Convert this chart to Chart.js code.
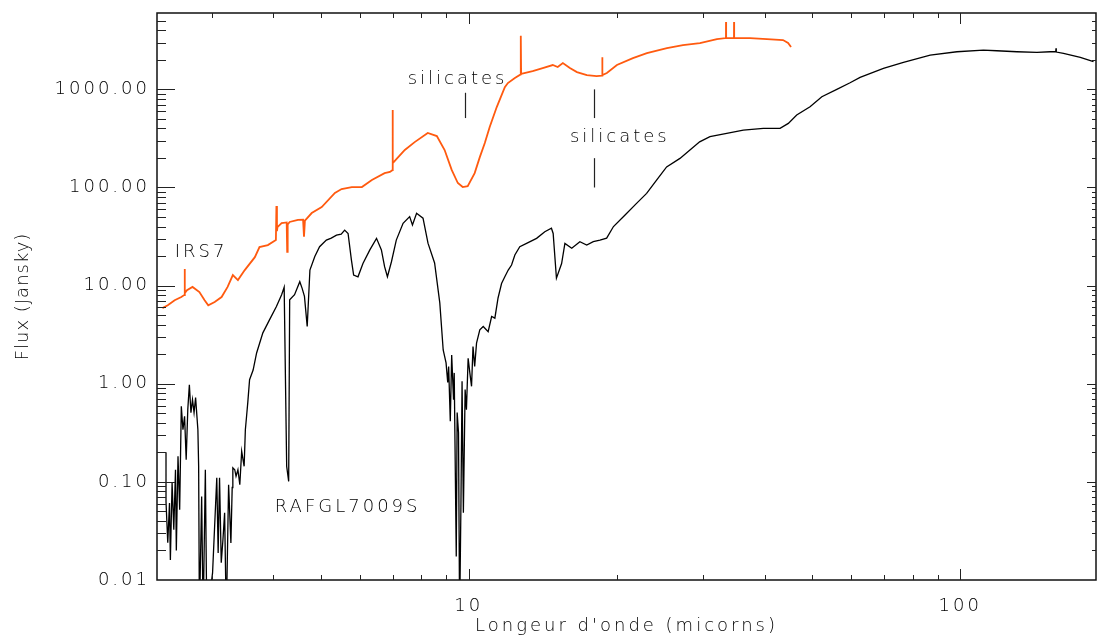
<!DOCTYPE html>
<html><head><meta charset="utf-8">
<script src="https://cdn.jsdelivr.net/npm/chart.js@4/dist/chart.umd.min.js"></script>
<style>html,body{margin:0;padding:0;background:#fff;overflow:hidden}canvas{display:block}</style>
</head><body>
<canvas id="c" width="1099" height="637"></canvas>
<script>
// ---- data (wavelength in microns, flux in Jansky) ----
const irs7Wave = [2.38,2.44,2.52,2.60,2.635,2.64,2.645,2.67,2.74,2.83,2.90,2.95,3.04,3.14,3.23,3.31,3.39,3.50,3.67,3.75,3.90,4.05,4.06,4.07,4.08,4.16,4.26,4.27,4.28,4.32,4.49,4.60,4.62,4.64,4.79,5.02,5.34,5.51,5.78,6.06,6.35,6.74,6.91,6.99,6.995,7.00,7.01,7.41,7.76,8.25,8.61,8.93,9.23,9.50,9.72,9.95,10.28,10.53,10.78,11.03,11.40,11.84,12.01,12.41,12.75,12.76,12.78,13.49,14.14,14.82,15.17,15.54,16.06,16.60,17.39,18.20,18.68,18.69,18.71,19.10,20.02,21.58,23.04,25.31,27.28,29.54,31.99,33.37,33.38,33.40,34.65,34.66,34.68,37.36,40.45,43.6,44.65,45.27];
const irs7Flux = [5.9,6.3,7.1,7.65,8.0,14.8,8.4,9.0,9.7,8.6,7.1,6.3,6.8,7.65,9.7,12.8,11.4,14.4,19.5,24.7,25.9,29.1,64.7,36,39.5,43.4,44,22.1,42,44.5,46.7,47,31.5,46,54.9,63.2,87.9,96.4,101,101,119,140,144,150,615,165,177,241,290,359,334,241,151,111,101,103,140,204,284,413,660,1054,1159,1304,1420,3516,1440,1535,1648,1770,1688,1854,1648,1500,1399,1366,1380,2120,1400,1466,1770,2084,2344,2636,2826,2964,3258,3334,4853,3334,3334,4853,3334,3334,3258,3177,2964,2698];

const rafWave = [2.42,2.42,2.44,2.46,2.47,2.49,2.51,2.53,2.54,2.56,2.58,2.60,2.62,2.64,2.66,2.68,2.70,2.72,2.74,2.76,2.78,2.81,2.82,2.83,2.86,2.88,2.91,2.93,3.01,3.07,3.09,3.11,3.135,3.16,3.185,3.21,3.245,3.28,3.30,3.31,3.34,3.36,3.39,3.42,3.45,3.49,3.51,3.53,3.55,3.58,3.64,3.70,3.81,3.93,4.06,4.16,4.21,4.26,4.30,4.32,4.42,4.53,4.58,4.63,4.69,4.75,4.86,4.97,5.13,5.25,5.38,5.50,5.59,5.68,5.77,5.83,5.95,6.09,6.29,6.49,6.64,6.74,6.83,6.96,7.12,7.35,7.58,7.68,7.83,8.07,8.26,8.52,8.73,8.87,8.99,9.06,9.10,9.17,9.23,9.31,9.34,9.43,9.47,9.53,9.58,9.64,9.69,9.75,9.83,9.89,9.97,10.05,10.13,10.20,10.28,10.37,10.53,10.70,10.95,11.13,11.30,11.47,11.66,11.84,12.03,12.22,12.41,12.70,13.11,13.74,14.28,14.73,14.85,15.08,15.45,15.69,16.2,16.83,17.38,17.92,18.49,19.08,19.7,20.8,21.95,23.01,24.11,25.27,26.90,28.19,29.5,30.96,33.49,36.2,39.76,43.0,44.7,46.49,49.49,52.3,56.1,59.7,62.57,69.8,76.66,86.9,98.5,111.5,118.7,130.5,143.3,152.5,156.5,156.7,156.9,162.3,175.6,186.8];
const rafFlux = [0.20,0.063,0.024,0.061,0.016,0.098,0.0325,0.133,0.020,0.182,0.052,0.589,0.340,0.466,0.168,0.545,0.978,0.508,0.689,0.508,0.722,0.340,0.144,0.004,0.071,0.004,0.133,0.004,0.0118,0.110,0.0189,0.110,0.015,0.0257,0.0485,0.004,0.0934,0.0238,0.0876,0.139,0.133,0.114,0.133,0.0934,0.205,0.144,0.340,0.466,0.642,1.10,1.38,2.06,3.30,4.48,6.12,8.08,9.61,0.144,0.101,7.16,8.08,10.96,9.38,7.77,3.83,14.4,19.8,24.9,29.1,30.5,32.7,33.5,36.8,34.0,18.2,12.8,12.3,16.8,23.1,30.3,23.1,15.6,12.3,17.5,29.1,43.2,50.5,41.5,54.7,48.6,27.1,17.0,6.67,2.21,1.63,1.03,1.50,0.414,1.96,0.689,1.29,0.0174,0.508,0.317,0.004,0.0613,1.06,0.0485,0.871,0.545,1.82,1.29,0.941,2.39,1.50,2.59,3.54,3.83,3.40,4.84,4.66,7.48,10.5,12.3,14.4,16.2,20.5,24.9,26.9,30.3,35.4,38.4,34.0,11.9,16.8,26.9,24.0,28.0,25.9,28.0,29.1,30.5,40,52.5,68.9,87.1,119,162,198,241,292,329,356,385,401,401,450,547,665,841,1000,1167,1325,1635,1884,2236,2416,2514,2475,2416,2381,2416,2416,2618,2400,2325,2118,1912];

const seriesNames = ['IRS7', 'RAFGL7009S'];
const xTickValues = [10, 100];
const xTickLabels = ['10', '100'];
const yTickValues = [0.01, 0.1, 1, 10, 100, 1000];
const yTickLabels = ['0.01', '0.10', '1.00', '10.00', '100.00', '1000.00'];
const xTitle = "Longeur d'onde (micorns)";
const yTitle = 'Flux (Jansky)';

// annotation texts & marker lines (data coordinates)
const noteTexts = ['IRS7', 'RAFGL7009S', 'silicates', 'silicates'];
const noteX = [2.52, 4.03, 7.51, 16.06];
const noteY = [19.5, 0.049, 1133, 290];
const markerX = [9.81, 18.0, 18.0];
const markerYFrom = [923, 1000, 199];
const markerYTo = [510, 510, 100];

// ---- styles ----
const FONT_FAMILY = '"DejaVu Sans", "Liberation Sans", sans-serif';
const TEXT_COLOR = '#000';
const spacing = { x: { ticks: '3px', title: '3px' }, y: { ticks: '3px', title: '1px' } };

const toPts = (xs, ys) => xs.map((x, i) => ({ x, y: ys[i] }));

const spacingPlugin = {
  id: 'spacing',
  afterUpdate(chart) {
    for (const s of Object.values(chart.scales)) {
      if (s._wrappedSpacing) continue;
      s._wrappedSpacing = true;
      const sp = spacing[s.id] || { ticks: '0px', title: '0px' };
      const dl = s.drawLabels, dt = s.drawTitle;
      s.drawLabels = function (a) { const c = this.ctx; c.save(); c.letterSpacing = sp.ticks; dl.call(this, a); c.restore(); };
      s.drawTitle = function () { const c = this.ctx; c.save(); c.letterSpacing = sp.title; dt.call(this); c.restore(); };
    }
  }
};

const framePlugin = {
  id: 'frame',
  afterDatasetsDraw(chart) {
    const { ctx, chartArea: a, scales: { x, y } } = chart;
    ctx.save();
    // annotations
    ctx.fillStyle = TEXT_COLOR;
    ctx.font = '200 18px ' + FONT_FAMILY;
    ctx.letterSpacing = '3px';
    ctx.textAlign = 'left';
    ctx.textBaseline = 'alphabetic';
    noteTexts.forEach((t, i) => ctx.fillText(t, x.getPixelForValue(noteX[i]), y.getPixelForValue(noteY[i])));
    ctx.strokeStyle = '#222';
    ctx.lineWidth = 1.2;
    markerX.forEach((mx, i) => {
      const px = Math.round(x.getPixelForValue(mx)) + 0.5;
      ctx.beginPath();
      ctx.moveTo(px, y.getPixelForValue(markerYFrom[i]));
      ctx.lineTo(px, y.getPixelForValue(markerYTo[i]));
      ctx.stroke();
    });
    // frame
    ctx.strokeStyle = '#111';
    ctx.lineWidth = 1.5;
    ctx.strokeRect(a.left, a.top, a.right - a.left, a.bottom - a.top);
    // ticks
    ctx.lineWidth = 1;
    ctx.strokeStyle = '#222';
    const line = (x1, y1, x2, y2) => { ctx.beginPath(); ctx.moveTo(x1, y1); ctx.lineTo(x2, y2); ctx.stroke(); };
    for (let d = -3; d <= 4; d++) {
      for (let m = 1; m <= 9; m++) {
        const v = m * Math.pow(10, d);
        const major = m === 1;
        if (v > x.min && v < x.max) {
          const px = Math.round(x.getPixelForValue(v)) + 0.5;
          const L = major ? 11 : 5;
          line(px, a.bottom, px, a.bottom - L);
          line(px, a.top, px, a.top + L);
        }
        if (v > y.min && v < y.max) {
          const py = Math.round(y.getPixelForValue(v)) + 0.5;
          line(a.left, py, a.left + (major ? 18 : 9), py);
          line(a.right, py, a.right - (major ? 9 : 4), py);
        }
      }
    }
    ctx.restore();
  }
};

const tickFont = { family: FONT_FAMILY, size: 18, weight: '200' };

new Chart(document.getElementById('c'), {
  type: 'line',
  data: {
    datasets: [
      { label: seriesNames[0], data: toPts(irs7Wave, irs7Flux), borderColor: '#ff5a0f', borderWidth: 1.8, pointRadius: 0, tension: 0 },
      { label: seriesNames[1], data: toPts(rafWave, rafFlux), borderColor: '#000', borderWidth: 1.3, pointRadius: 0, tension: 0 }
    ]
  },
  options: {
    responsive: false,
    animation: false,
    devicePixelRatio: 1,
    layout: { padding: { left: 0, right: 3, top: 13, bottom: 0 } },
    plugins: { legend: { display: false }, tooltip: { enabled: false } },
    scales: {
      x: {
        type: 'logarithmic', min: 2.32, max: 189,
        afterBuildTicks: s => { s.ticks = xTickValues.map(v => ({ value: v })); },
        afterFit: s => { s.height = 57; s.paddingLeft = 0; s.paddingRight = 0; },
        grid: { display: false, drawTicks: false },
        border: { display: false },
        ticks: { autoSkip: false, maxRotation: 0, padding: 16, color: TEXT_COLOR, font: tickFont, callback: (v, i) => xTickLabels[i] },
        title: { display: true, text: xTitle, color: TEXT_COLOR, font: tickFont, padding: { top: 0, bottom: 0 } }
      },
      y: {
        type: 'logarithmic', min: 0.01, max: 6000,
        afterBuildTicks: s => { s.ticks = yTickValues.map(v => ({ value: v })); },
        afterFit: s => { s.width = 157; s.paddingTop = 0; s.paddingBottom = 0; },
        grid: { display: false, drawTicks: false },
        border: { display: false },
        ticks: { autoSkip: false, padding: 7, color: TEXT_COLOR, font: tickFont, callback: (v, i) => yTickLabels[i] },
        title: { display: true, text: yTitle, color: TEXT_COLOR, font: tickFont, padding: { top: 13, bottom: 0 } }
      }
    }
  },
  plugins: [spacingPlugin, framePlugin]
});
</script>
</body></html>
